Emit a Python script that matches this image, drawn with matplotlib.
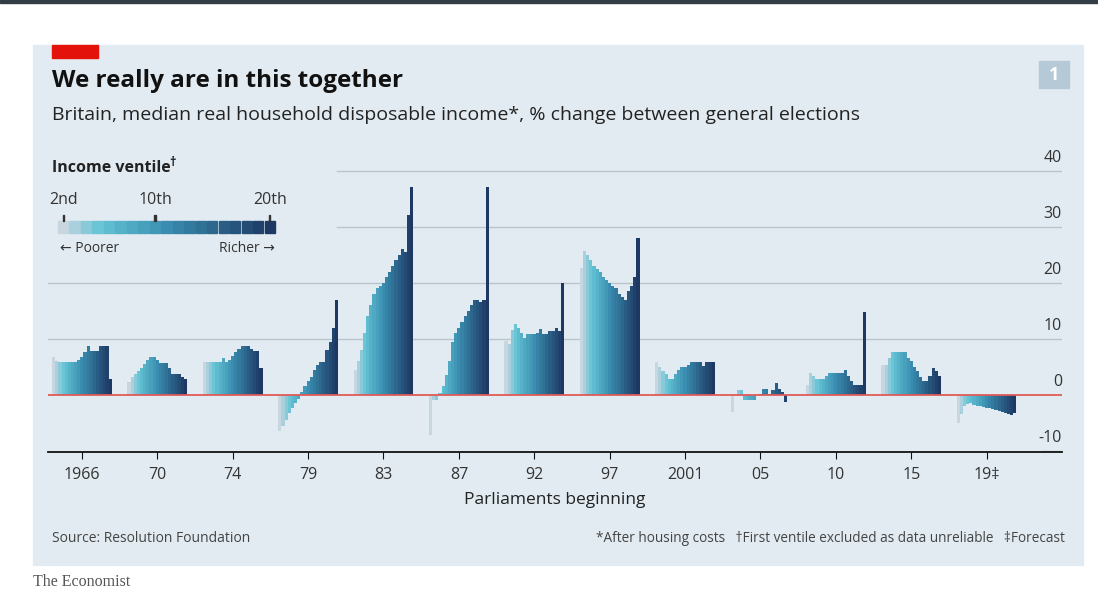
import matplotlib
matplotlib.use("Agg")
import matplotlib.pyplot as plt
from matplotlib.colors import LinearSegmentedColormap
from matplotlib.patches import Rectangle
import matplotlib.transforms as mtr
import numpy as np

plt.rcParams['font.family'] = ['Open Sans', 'DejaVu Sans']

tick_labels = ["1966", "70", "74", "79", "83", "87", "92", "97", "2001", "05", "10", "15", "19‡"]
g1966 = [6.7,6.0,5.8,5.8,5.8,5.8,5.8,5.8,6.2,6.8,7.6,8.7,7.9,7.9,7.9,8.7,8.7,8.7,2.8]
g1970 = [2.3,3.2,3.8,4.3,4.8,5.5,6.2,6.8,6.8,6.2,5.6,5.6,5.6,4.8,3.8,3.8,3.8,3.2,2.8]
g1974 = [5.8,5.8,5.8,5.8,5.8,5.8,6.5,5.8,6.3,7.0,7.6,8.2,8.8,8.8,8.8,8.2,7.9,7.9,4.8]
g1979 = [-6.5,-5.5,-4.5,-3.3,-2.3,-1.5,-0.8,0.5,1.5,2.4,3.2,4.4,5.3,5.8,5.8,8.0,9.5,11.9,16.9]
g1983 = [4.4,6.0,8.0,11.0,14.0,16.0,18.0,19.0,19.5,20.0,21.0,22.0,23.0,24.0,25.0,26.0,25.5,32.0,37.0]
g1987 = [-7.2,-1.0,-1.0,0.3,1.5,3.5,6.0,9.5,11.0,12.0,13.0,14.0,15.0,16.0,17.0,17.0,16.5,17.0,37.0]
g1992 = [9.6,9.0,11.5,12.6,12.0,11.0,10.2,10.8,10.8,10.8,11.0,11.8,10.8,10.8,11.4,11.4,12.0,11.4,19.9]
g1997 = [22.7,25.7,25.0,24.0,23.0,22.5,22.0,21.0,20.5,20.0,19.5,19.0,18.0,17.5,17.0,18.5,19.5,21.0,27.9]
g2001 = [5.8,4.9,4.3,3.7,2.8,2.8,3.7,4.5,4.9,4.9,5.4,5.8,5.8,5.8,5.8,5.2,5.8,5.8,5.8]
g2005 = [-3.0,0.0,0.8,0.8,-1.0,-1.0,-1.0,-1.0,0.0,0.2,1.0,1.0,0.2,0.8,2.2,1.0,0.5,-1.2,0.0]
g2010 = [1.7,3.9,3.3,2.9,2.9,2.9,3.3,3.9,3.9,3.9,3.9,3.9,4.5,3.4,2.5,1.8,1.8,1.8,14.8]
g2015 = [5.4,5.4,6.5,7.6,7.6,7.6,7.6,7.6,6.5,6.0,5.0,4.2,3.2,2.5,2.5,3.4,4.8,4.3,3.4]
g2019 = [-5.0,-3.5,-2.0,-1.6,-1.5,-1.8,-2.0,-2.0,-2.2,-2.3,-2.4,-2.5,-2.7,-2.8,-3.0,-3.2,-3.4,-3.6,-3.2]
groups = [g1966,g1970,g1974,g1979,g1983,g1987,g1992,g1997,g2001,g2005,g2010,g2015,g2019]
yticks = [-10, 0, 10, 20, 30, 40]

cmap = LinearSegmentedColormap.from_list("v", [(0,"#c8d6e0"),(0.18,"#62c3d3"),(0.5,"#3a8db0"),(1,"#1c3863")])
colors = [cmap(j/18) for j in range(19)]

fig = plt.figure(figsize=(10.98, 6.0), dpi=100)
fig.patch.set_facecolor("white")
bgc = "#e2ebf1"
fig.add_artist(Rectangle((33/1098, 35/600), 1050/1098, 520/600, transform=fig.transFigure, color=bgc, zorder=0))
fig.add_artist(Rectangle((52/1098, 542/600), 46/1098, 13/600, transform=fig.transFigure, color="#e3120b", zorder=1))
fig.add_artist(Rectangle((0, 597/600), 1, 3/600, transform=fig.transFigure, color="#333d45", zorder=1))
fig.add_artist(Rectangle((1039/1098, 512/600), 30/1098, 27/600, transform=fig.transFigure, color="#b5c9d6", zorder=1))
fig.text(1054/1098, 525/600, "1", color="white", fontsize=13, fontweight="bold", ha="center", va="center")

fig.text(52/1098, 519/600, "We really are in this together", fontsize=17.5, fontweight="bold", va="center", color="#111")
fig.text(52/1098, 485/600, "Britain, median real household disposable income*, % change between general elections", fontsize=14, va="center", color="#222")

ax = fig.add_axes([48/1098, 148/600, 1014/1098, 292/600])
ax.set_facecolor("none")
step = 24
for i, g in enumerate(groups):
    xs = [i*step + j for j in range(19)]
    ax.bar(xs, g, width=1.0, color=colors, align="edge", linewidth=0, zorder=3)
ax.set_xlim(-1.3, 321.5)
ax.set_ylim(-10.2, 41.9)
for s in ["top", "left", "right"]:
    ax.spines[s].set_visible(False)
ax.spines["bottom"].set_color("#111")
ax.spines["bottom"].set_linewidth(1.3)
ax.axhline(0, color="#e05a57", lw=1.3, zorder=4)
for yv in yticks:
    if yv in (30, 40):
        ax.axhline(yv, xmin=0.285, color="#b9c5cd", lw=1, zorder=1)
    elif yv in (10, 20):
        ax.axhline(yv, color="#b9c5cd", lw=1, zorder=1)
    elif yv == -10:
        ax.axhline(yv, xmin=0.98, color="#b9c5cd", lw=1, zorder=1)
    tr = mtr.blended_transform_factory(ax.transAxes, ax.transData)
    ax.text(1.0, yv + 0.9, str(yv), transform=tr, ha="right", va="bottom", fontsize=11.5, color="#333")
ax.set_yticks([])
ax.set_xticks([i*step + 9.5 for i in range(len(groups))])
ax.set_xticklabels(tick_labels, fontsize=11.5, color="#333")
ax.tick_params(axis="x", length=5, color="#111", pad=6)
ax.set_xlabel("Parliaments beginning", fontsize=12.5, color="#222", labelpad=6)

# legend
fig.text(52/1098, 432/600, "Income ventile", fontsize=11.5, fontweight="bold", va="center", color="#222")
fig.text(169/1098, 437/600, "†", fontsize=9, fontweight="bold", va="center", color="#222")
lx0, lw = 58/1098, 218/1098
for j in range(19):
    fig.add_artist(Rectangle((lx0 + j*lw/19, 367/600), lw/19*0.9, 12/600, transform=fig.transFigure, color=colors[j]))
for lab, j in [("2nd", 0), ("10th", 8), ("20th", 18)]:
    xc = lx0 + (j + 0.45)*lw/19
    fig.text(xc, 400/600, lab, fontsize=11.5, ha="center", va="center", color="#333")
    fig.add_artist(Rectangle((xc - 0.0005, 379/600), 0.001, 6/600, transform=fig.transFigure, color="#333"))
fig.text(60/1098, 352/600, "← Poorer", fontsize=10, va="center", color="#333")
fig.text(275/1098, 352/600, "Richer →", fontsize=10, va="center", ha="right", color="#333")

fig.text(52/1098, 61/600, "Source: Resolution Foundation", fontsize=10, va="center", color="#444")
fig.text(1065/1098, 61/600, "*After housing costs   †First ventile excluded as data unreliable   ‡Forecast",
         fontsize=9.8, va="center", ha="right", color="#444")
fig.text(33/1098, 18/600, "The Economist", fontsize=11.5, family=["Liberation Serif", "DejaVu Serif"], va="center", color="#555")

fig.savefig("out.png", dpi=100, facecolor="white")
